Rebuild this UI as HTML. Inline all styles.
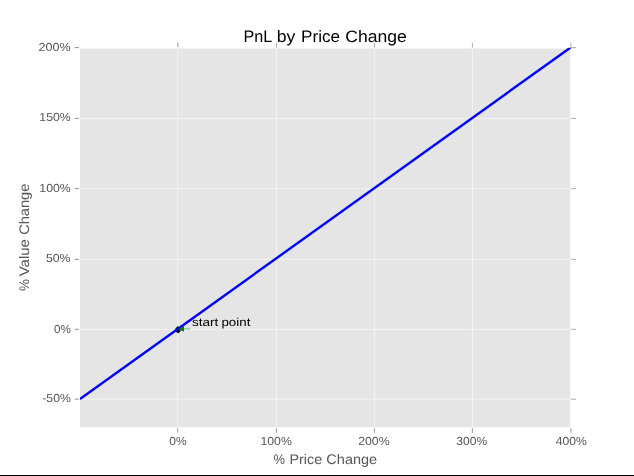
<!DOCTYPE html>
<html lang="en"><head><meta charset="utf-8"><title>PnL by Price Change</title>
<style>
html,body{margin:0;padding:0;background:#fff;}
body{width:634px;height:476px;overflow:hidden;position:relative;font-family:"Liberation Sans",sans-serif;}
svg{position:absolute;left:0;top:0;display:block;will-change:transform;}
text{font-family:"Liberation Sans",sans-serif;text-rendering:geometricPrecision;}
.tk{fill:#555;font-size:11.7px;}
.lb{fill:#555;font-size:13.9px;}
.ti{fill:#000;font-size:16.6px;}
.an{fill:#000;font-size:11.5px;}
</style></head><body>
<svg width="634" height="476" viewBox="0 0 634 476" role="img" aria-label="PnL by Price Change chart">
<rect x="0" y="0" width="634" height="476" fill="#fff"/>
<rect x="80.0" y="48.55" width="490.4" height="378.7" fill="#e5e5e5"/>
<g stroke="#fff" stroke-width="1" stroke-opacity="0.55">
<line x1="177.7" y1="48.55" x2="177.7" y2="427.25"/>
<line x1="276.4" y1="48.55" x2="276.4" y2="427.25"/>
<line x1="374.4" y1="48.55" x2="374.4" y2="427.25"/>
<line x1="472.4" y1="48.55" x2="472.4" y2="427.25"/>
<line x1="80.0" y1="118.4" x2="570.4" y2="118.4"/>
<line x1="80.0" y1="188.6" x2="570.4" y2="188.6"/>
<line x1="80.0" y1="259.4" x2="570.4" y2="259.4"/>
<line x1="80.0" y1="329.3" x2="570.4" y2="329.3"/>
<line x1="80.0" y1="399.2" x2="570.4" y2="399.2"/>
</g>
<g stroke="#555" stroke-width="1" stroke-opacity="0.62">
<line x1="177.7" y1="428.35" x2="177.7" y2="432.75"/>
<line x1="276.4" y1="428.35" x2="276.4" y2="432.75"/>
<line x1="374.4" y1="428.35" x2="374.4" y2="432.75"/>
<line x1="472.4" y1="428.35" x2="472.4" y2="432.75"/>
<line x1="570.9" y1="428.35" x2="570.9" y2="432.75"/>
<line x1="79.0" y1="47.6" x2="74.7" y2="47.6"/>
<line x1="79.0" y1="118.4" x2="74.7" y2="118.4"/>
<line x1="79.0" y1="188.6" x2="74.7" y2="188.6"/>
<line x1="79.0" y1="259.4" x2="74.7" y2="259.4"/>
<line x1="79.0" y1="329.3" x2="74.7" y2="329.3"/>
<line x1="79.0" y1="399.2" x2="74.7" y2="399.2"/>
</g>
<g stroke="#555" stroke-width="1" stroke-opacity="0.48">
<line x1="177.75" y1="47.2" x2="177.75" y2="42.8" stroke-width="1.5" stroke-opacity="0.4"/>
<line x1="276.4" y1="47.6" x2="276.4" y2="42.8"/>
<line x1="374.4" y1="47.6" x2="374.4" y2="42.8"/>
<line x1="472.4" y1="47.6" x2="472.4" y2="42.8"/>
<line x1="570.9" y1="47.6" x2="570.9" y2="42.8"/>
<line x1="570.9" y1="47.6" x2="576.0" y2="47.6"/>
<line x1="570.9" y1="118.4" x2="576.0" y2="118.4"/>
<line x1="570.9" y1="188.6" x2="576.0" y2="188.6"/>
<line x1="570.9" y1="259.4" x2="576.0" y2="259.4"/>
<line x1="570.9" y1="329.3" x2="576.0" y2="329.3"/>
<line x1="570.9" y1="399.2" x2="576.0" y2="399.2"/>
</g>
<path d="M177.8,326.1 L174.9,329.2 Q175.6,332.6 178.0,333.2 Q180.5,332.7 181.0,329.6 Z" fill="#000"/>
<clipPath id="c"><rect x="80.0" y="47.8" width="490.80" height="379.45"/></clipPath>
<line x1="80.0" y1="399.0" x2="570.8" y2="47.35" stroke="#0000ff" stroke-width="2.4" clip-path="url(#c)"/>
<line x1="183.5" y1="328.9" x2="190.2" y2="328.9" stroke="#008000" stroke-width="0.6" stroke-opacity="0.8"/>
<polygon points="178.2,328.9 184.0,326.0 184.0,331.8" fill="#008000"/>
<text class="ti" y="41.8"><tspan x="243.41" textLength="28.15" lengthAdjust="spacingAndGlyphs">PnL</tspan> <tspan x="276.84" textLength="18.58" lengthAdjust="spacingAndGlyphs">by</tspan> <tspan x="301.10" textLength="39.03" lengthAdjust="spacingAndGlyphs">Price</tspan> <tspan x="345.34" textLength="61.51" lengthAdjust="spacingAndGlyphs">Change</tspan></text>
<text class="lb" y="464.0"><tspan x="273.48" textLength="11.52" lengthAdjust="spacingAndGlyphs">%</tspan> <tspan x="289.48" textLength="32.71" lengthAdjust="spacingAndGlyphs">Price</tspan> <tspan x="326.38" textLength="50.73" lengthAdjust="spacingAndGlyphs">Change</tspan></text>
<text class="lb" transform="translate(29.2,0) rotate(-90)" y="0"><tspan x="-291.10" textLength="11.90" lengthAdjust="spacingAndGlyphs">%</tspan> <tspan x="-276.30" textLength="37.18" lengthAdjust="spacingAndGlyphs">Value</tspan> <tspan x="-234.87" textLength="51.18" lengthAdjust="spacingAndGlyphs">Change</tspan></text>
<text class="an" y="325.7"><tspan x="192.05" textLength="26.33" lengthAdjust="spacingAndGlyphs">start</tspan> <tspan x="221.44" textLength="28.93" lengthAdjust="spacingAndGlyphs">point</tspan></text>
<text class="tk" y="51.1"><tspan x="38.63" textLength="32.13" lengthAdjust="spacingAndGlyphs">200%</tspan></text>
<text class="tk" y="120.9"><tspan x="39.35" textLength="31.41" lengthAdjust="spacingAndGlyphs">150%</tspan></text>
<text class="tk" y="191.7"><tspan x="39.32" textLength="31.45" lengthAdjust="spacingAndGlyphs">100%</tspan></text>
<text class="tk" y="262.2"><tspan x="45.92" textLength="24.70" lengthAdjust="spacingAndGlyphs">50%</tspan></text>
<text class="tk" y="332.6"><tspan x="53.91" textLength="16.93" lengthAdjust="spacingAndGlyphs">0%</tspan></text>
<text class="tk" y="402.0"><tspan x="42.34" textLength="28.37" lengthAdjust="spacingAndGlyphs">-50%</tspan></text>
<text class="tk" y="445.2"><tspan x="169.23" textLength="17.35" lengthAdjust="spacingAndGlyphs">0%</tspan></text>
<text class="tk" y="445.2"><tspan x="260.44" textLength="31.38" lengthAdjust="spacingAndGlyphs">100%</tspan></text>
<text class="tk" y="445.2"><tspan x="358.23" textLength="31.41" lengthAdjust="spacingAndGlyphs">200%</tspan></text>
<text class="tk" y="445.2"><tspan x="456.33" textLength="30.81" lengthAdjust="spacingAndGlyphs">300%</tspan></text>
<text class="tk" y="445.2"><tspan x="555.67" textLength="31.11" lengthAdjust="spacingAndGlyphs">400%</tspan></text>
<rect x="0" y="475" width="634" height="1" fill="#000"/>
</svg>
</body></html>
